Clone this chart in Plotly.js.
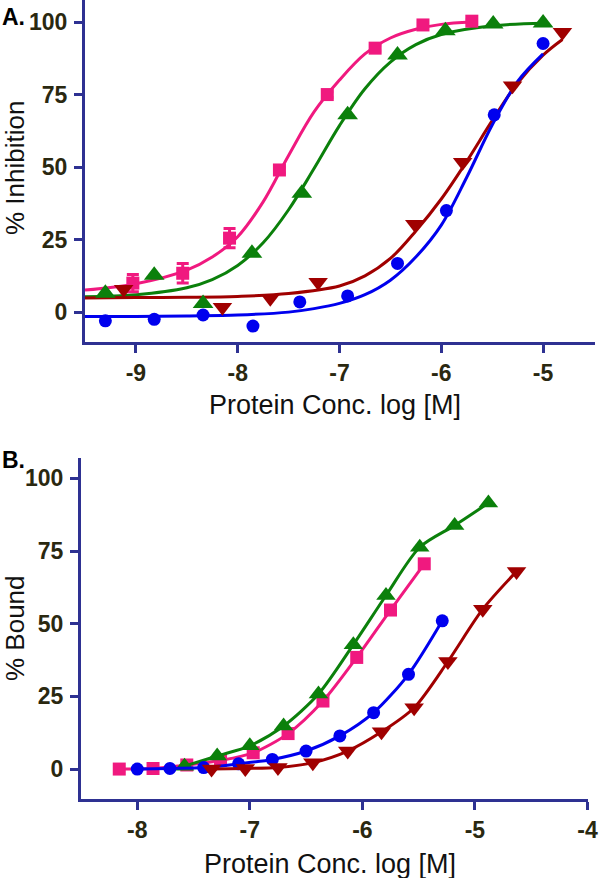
<!DOCTYPE html>
<html><head><meta charset="utf-8">
<script src="https://cdn.plot.ly/plotly-3.0.1.min.js"></script>
<style>html,body{margin:0;padding:0;background:#fff;} #chart{width:600px;height:878px;}</style>
</head><body><div id="chart"></div>
<script>
// ---------- Panel A: % Inhibition (data points) ----------
const aPinkX = [-9.03, -8.54, -8.08, -7.59, -7.12, -6.65, -6.18, -5.70];
const aPinkY = [10, 13.4, 25.5, 49, 75, 91, 99, 100.3];
const aPinkErr = [3, 3.4, 3.3, 1, 1, 1, 0.5, 0.5];
const aGreenX = [-9.30, -8.82, -8.34, -7.86, -7.37, -6.92, -6.43, -5.96, -5.49, -5.00];
const aGreenY = [6.5, 12.7, 3, 20.3, 41, 68, 88.6, 97, 99.3, 99.7];
const aRedX = [-9.12, -8.15, -7.68, -7.21, -6.26, -5.79, -5.30, -4.81];
const aRedY = [7.9, 1.7, 4.8, 10.3, 30.3, 51.7, 78, 96.5];
const aBlueX = [-9.30, -8.82, -8.34, -7.85, -7.39, -6.92, -6.43, -5.95, -5.48, -5.00];
const aBlueY = [-3, -2.5, -1, -4.8, 3.5, 5.6, 16.8, 35, 68, 92.6];

// ---------- Panel A: fitted curves ----------
const aPinkFitX = [-9.50, -9.0, -8.5, -8.25, -8.0, -7.75, -7.5, -7.25, -7.0, -6.75, -6.5, -6.25, -6.0, -5.7];
const aPinkFitY = [7.6, 9.8, 14.5, 19, 26, 38, 54, 69, 80, 89, 94.5, 97.5, 99.2, 100];
const aGreenFitX = [-9.50, -9.0, -8.5, -8.25, -8.0, -7.75, -7.5, -7.25, -7.0, -6.75, -6.5, -6.25, -6.0, -5.5, -5.0];
const aGreenFitY = [5.3, 6.0, 8.4, 11.2, 16.1, 23.9, 35.3, 49.5, 64.3, 77, 86.2, 92.2, 95.7, 98.7, 99.6];
const aRedFitX = [-9.50, -9.0, -8.5, -8.0, -7.5, -7.0, -6.75, -6.5, -6.25, -6.0, -5.75, -5.5, -5.25, -5.0, -4.81];
const aRedFitY = [4.9, 5.0, 5.1, 5.4, 6.4, 9.0, 12.5, 18.5, 28, 39, 52, 66, 79, 88.6, 94];
const aBlueFitX = [-9.50, -9.0, -8.5, -8.0, -7.5, -7.25, -7.0, -6.75, -6.5, -6.25, -6.0, -5.75, -5.5, -5.25, -5.0];
const aBlueFitY = [-1.5, -1.5, -1.3, -1.0, 0, 1.2, 3.0, 6.0, 11, 19, 30, 46.5, 64.5, 79.5, 89];

// ---------- Panel B: % Bound ----------
const bPinkX = [-8.16, -7.86, -7.56, -7.26, -6.97, -6.66, -6.35, -6.05, -5.75, -5.45];
const bPinkY = [0, 0.2, 1.4, 3.0, 5.6, 12.2, 23.4, 38.4, 54.7, 70.6];
const bGreenX = [-7.58, -7.29, -7.0, -6.70, -6.39, -6.08, -5.79, -5.49, -5.18, -4.88];
const bGreenY = [1.0, 4.5, 8.0, 14.8, 25.8, 42.8, 59.7, 76.3, 83.8, 91.5];
const bBlueX = [-8.0, -7.71, -7.41, -7.10, -6.80, -6.50, -6.20, -5.90, -5.59, -5.29];
const bBlueY = [0, 0.2, 0.5, 1.8, 3.3, 6.2, 11.4, 19.4, 32.6, 51];
const bRedX = [-7.34, -7.04, -6.75, -6.44, -6.13, -5.83, -5.54, -5.24, -4.93, -4.63];
const bRedY = [0, 0.2, 0.5, 2.2, 6.2, 12.8, 21.1, 37, 55, 68];

// ---------- Ticks & labels ----------
const aXTicks = [-9, -8, -7, -6, -5];
const aXTickText = ['-9', '-8', '-7', '-6', '-5'];
const bXTicks = [-8, -7, -6, -5, -4];
const bXTickText = ['-8', '-7', '-6', '-5', '-4'];
const yTicks = [0, 25, 50, 75, 100];
const yTickText = ['0', '25', '50', '75', '100'];
const xTitle = 'Protein Conc. log [M]';
const aYTitle = '% Inhibition';
const bYTitle = '% Bound';

// ---------- Styling ----------
const W = 600, H = 878;
const px = v => v / W, py = v => 1 - v / H;
const NAVY = '#2e3192', TICKCOL = '#2a2810', TXT = '#111111';
const PINK = '#f0197f', GREEN = '#0b800b', RED = '#a00000', BLUE = '#0000ee';
const FONT = 'Liberation Sans, Arial, sans-serif';

function fit(x, y, c, xa, ya) {
  return {x: x, y: y, type: 'scatter', mode: 'lines', xaxis: xa, yaxis: ya,
    line: {color: c, width: 3, shape: 'spline', smoothing: 1}, hoverinfo: 'skip', showlegend: false};
}
function pts(x, y, c, sym, size, xa, ya, extra) {
  return Object.assign({x: x, y: y, type: 'scatter', mode: 'markers', xaxis: xa, yaxis: ya,
    marker: {color: c, symbol: sym, size: size, line: {width: 0}}, showlegend: false}, extra || {});
}
function both(x, y, c, sym, size, xa, ya) {
  return {x: x, y: y, type: 'scatter', mode: 'lines+markers', xaxis: xa, yaxis: ya,
    line: {color: c, width: 3, shape: 'spline', smoothing: 0.8},
    marker: {color: c, symbol: sym, size: size, line: {width: 0}}, showlegend: false};
}

const data = [
  fit(aPinkFitX, aPinkFitY, PINK, 'x', 'y'),
  fit(aGreenFitX, aGreenFitY, GREEN, 'x', 'y'),
  fit(aRedFitX, aRedFitY, RED, 'x', 'y'),
  fit(aBlueFitX, aBlueFitY, BLUE, 'x', 'y'),
  pts(aPinkX, aPinkY, PINK, 'square', 13, 'x', 'y',
      {error_y: {type: 'data', array: aPinkErr, color: PINK, thickness: 3, width: 6}}),
  pts(aGreenX, aGreenY, GREEN, 'triangle-up', 18, 'x', 'y'),
  pts(aRedX, aRedY, RED, 'triangle-down', 17, 'x', 'y'),
  pts(aBlueX, aBlueY, BLUE, 'circle', 13, 'x', 'y'),
  both(bPinkX, bPinkY, PINK, 'square', 13, 'x2', 'y2'),
  both(bGreenX, bGreenY, GREEN, 'triangle-up', 17, 'x2', 'y2'),
  both(bBlueX, bBlueY, BLUE, 'circle', 13, 'x2', 'y2'),
  both(bRedX, bRedY, RED, 'triangle-down', 17, 'x2', 'y2')
];

function axisBase() {
  return {showline: true, linecolor: NAVY, linewidth: 3, ticks: 'outside', ticklen: 8, tickwidth: 3,
    tickcolor: NAVY, showgrid: false, zeroline: false, automargin: false, fixedrange: true,
    tickmode: 'array',
    tickfont: {family: FONT, size: 23, color: TICKCOL, weight: 'bold'}};
}

const layout = {
  width: W, height: H, margin: {l: 0, r: 0, t: 0, b: 0},
  paper_bgcolor: '#ffffff', plot_bgcolor: '#ffffff', showlegend: false,
  xaxis: Object.assign(axisBase(), {domain: [px(85), px(595)], range: [-9.5, -4.49], tickvals: aXTicks,
    ticktext: aXTickText, ticklabelstandoff: 0, anchor: 'y'}),
  yaxis: Object.assign(axisBase(), {domain: [py(342), py(0)], range: [-10.3, 107.6], tickvals: yTicks,
    ticktext: yTickText, ticklabelstandoff: 2, anchor: 'x'}),
  xaxis2: Object.assign(axisBase(), {domain: [px(81), px(588)], range: [-8.5, -3.995], tickvals: bXTicks,
    ticktext: bXTickText, ticklabelstandoff: 0, anchor: 'y2'}),
  yaxis2: Object.assign(axisBase(), {domain: [py(799), py(458)], range: [-10.3, 107], tickvals: yTicks,
    ticktext: yTickText, ticklabelstandoff: 2, anchor: 'x2'}),
  annotations: [
    {text: 'A.', xref: 'paper', yref: 'paper', x: px(0), y: py(17), xanchor: 'left', yanchor: 'middle',
     showarrow: false, font: {family: FONT, size: 23, color: '#000', weight: 'bold'}},
    {text: 'B.', xref: 'paper', yref: 'paper', x: px(0), y: py(460), xanchor: 'left', yanchor: 'middle',
     showarrow: false, font: {family: FONT, size: 23, color: '#000', weight: 'bold'}},
    {text: aYTitle, xref: 'paper', yref: 'paper', x: px(15), y: py(168), xanchor: 'center', yanchor: 'middle',
     textangle: -90, showarrow: false, font: {family: FONT, size: 26, color: TXT}},
    {text: bYTitle, xref: 'paper', yref: 'paper', x: px(15), y: py(628), xanchor: 'center', yanchor: 'middle',
     textangle: -90, showarrow: false, font: {family: FONT, size: 26, color: TXT}},
    {text: xTitle, xref: 'paper', yref: 'paper', x: px(335), y: py(405), xanchor: 'center', yanchor: 'middle',
     showarrow: false, font: {family: FONT, size: 27, color: TXT}},
    {text: xTitle, xref: 'paper', yref: 'paper', x: px(330), y: py(864), xanchor: 'center', yanchor: 'middle',
     showarrow: false, font: {family: FONT, size: 27, color: TXT}}
  ]
};

Plotly.newPlot('chart', data, layout, {displayModeBar: false, staticPlot: true});
</script>
</body></html>
